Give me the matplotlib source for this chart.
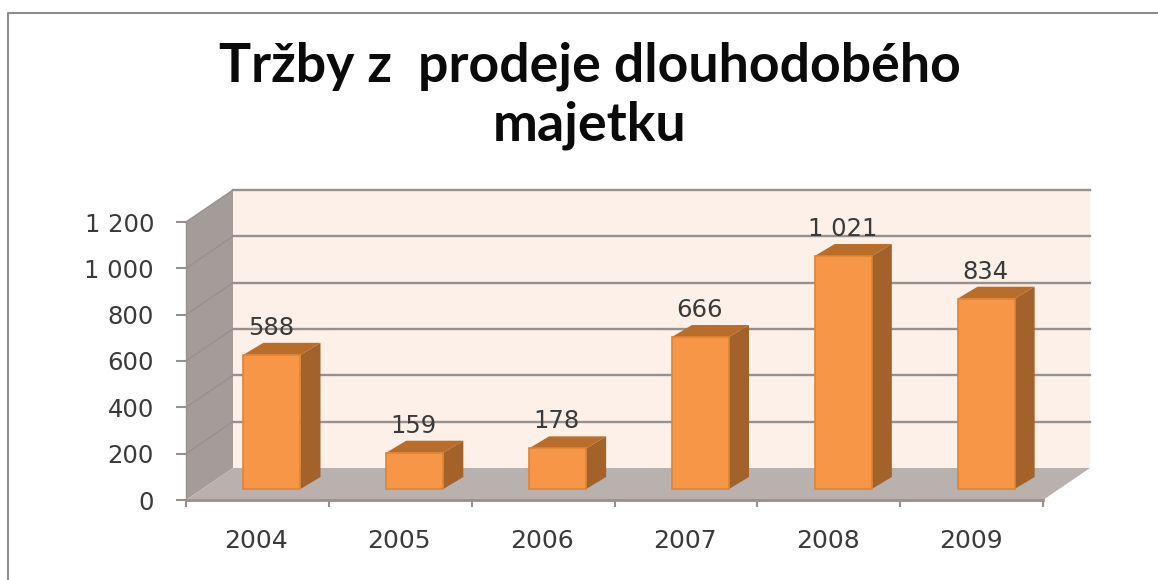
"""Tržby z prodeje dlouhodobého majetku: Excel-style 3D column chart in matplotlib."""

import matplotlib
matplotlib.use("Agg")
import matplotlib.pyplot as plt
from matplotlib.patches import Polygon

# -----------------------------
# Data
# -----------------------------
years = ["2004", "2005", "2006", "2007", "2008", "2009"]
values = [588, 159, 178, 666, 1021, 834]
value_labels = ["588", "159", "178", "666", "1 021", "834"]
y_ticks = [0, 200, 400, 600, 800, 1000, 1200]
y_tick_labels = ["0", "200", "400", "600", "800", "1 000", "1 200"]
title_lines = ["Tržby z  prodeje dlouhodobého", "majetku"]

# -----------------------------
# Layout (pixels in the 1158x580 figure)
# -----------------------------
W, H = 1158, 580
LEFT, RIGHT, TOP, BOTTOM = 186, 1043, 222, 500
PX_X = (RIGHT - LEFT) / len(years)   # pixels per category
PX_Y = (BOTTOM - TOP) / 1200         # pixels per value unit

# depth of the box and of one bar, in data units
WALL_DX, WALL_DY = 47 / PX_X, 32 / PX_Y
BAR_DX, BAR_DY = 20 / PX_X, 12 / PX_Y
# front face of a bar sits this far into the floor
BAR_SHIFT_X, BAR_SHIFT_Y = 14.5 / PX_X, 11 / PX_Y
BAR_WIDTH = 0.40
DEPTH_SCALE = 0.985  # bars stand a bit behind the front plane

WALL_BACK = "#FDF0E8"
WALL_SIDE = "#A39C98"
FLOOR = "#B8B1AE"
GRID = "#96918E"
BAR_FRONT = "#F79646"
BAR_EDGE = "#DE8436"
BAR_TOP = "#B96D2A"
BAR_SIDE = "#A2622A"
TEXT = "#3A3A3A"


def face(ax, points, color, zorder, edge="none"):
    ax.add_patch(Polygon(points, closed=True, facecolor=color, edgecolor=edge,
                         linewidth=1, zorder=zorder, clip_on=False))


def main():
    fig = plt.figure(figsize=(W / 100, H / 100), dpi=100)
    ax = fig.add_axes([LEFT / W, 1 - BOTTOM / H, (RIGHT - LEFT) / W, (BOTTOM - TOP) / H])
    n = len(years)
    ax.set_xlim(0, n)
    ax.set_ylim(0, 1200)
    ax.patch.set_visible(False)

    # Box: back wall, side wall, floor
    face(ax, [(WALL_DX, WALL_DY), (n + WALL_DX, WALL_DY), (n + WALL_DX, 1200 + WALL_DY), (WALL_DX, 1200 + WALL_DY)], WALL_BACK, 1)
    face(ax, [(0, 0), (WALL_DX, WALL_DY), (WALL_DX, 1200 + WALL_DY), (0, 1200)], WALL_SIDE, 1)
    face(ax, [(0, 0), (n, 0), (n + WALL_DX, WALL_DY), (WALL_DX, WALL_DY)], FLOOR, 1)

    # Gridlines: along the side wall, then across the back wall (none at the floor)
    for t in y_ticks[1:]:
        ax.plot([0, WALL_DX], [t, t + WALL_DY], color=GRID, lw=1, zorder=2, clip_on=False)
        ax.plot([WALL_DX, n + WALL_DX], [t + WALL_DY, t + WALL_DY], color=GRID, lw=1.7, zorder=2, clip_on=False)

    # Bars
    for i, v in enumerate(values):
        x0 = i + 0.5 - BAR_WIDTH / 2 + BAR_SHIFT_X
        x1 = x0 + BAR_WIDTH
        h = v * DEPTH_SCALE
        y0 = BAR_SHIFT_Y
        y1 = h + BAR_SHIFT_Y
        z = 3 + i * 0.1
        face(ax, [(x1, y0), (x1 + BAR_DX, y0 + BAR_DY), (x1 + BAR_DX, y1 + BAR_DY), (x1, y1)], BAR_SIDE, z)
        face(ax, [(x0, y1), (x1, y1), (x1 + BAR_DX, y1 + BAR_DY), (x0 + BAR_DX, y1 + BAR_DY)], BAR_TOP, z)
        ax.bar(i + 0.5 + BAR_SHIFT_X, h, BAR_WIDTH, bottom=y0, color=BAR_FRONT,
               edgecolor=BAR_EDGE, linewidth=1.2, zorder=z, clip_on=False)
        ax.annotate(value_labels[i], (i + 0.5 + BAR_SHIFT_X, y1 + BAR_DY), xytext=(-1, 3),
                    textcoords="offset pixels", ha="center", va="bottom",
                    fontsize=17.5, color=TEXT, zorder=6)

    # Axes
    for side in ("top", "right"):
        ax.spines[side].set_visible(False)
    ax.spines["left"].set_color(GRID)
    ax.spines["left"].set_linewidth(1)
    ax.spines["bottom"].set_color(GRID)
    ax.spines["bottom"].set_linewidth(2)
    ax.spines["bottom"].set_zorder(4)
    ax.set_yticks(y_ticks, y_tick_labels)
    ax.set_xticks(range(n + 1), [""] * (n + 1))
    ax.tick_params(axis="y", length=7, width=1.5, color=GRID, labelsize=17.5, labelcolor=TEXT, pad=16)
    ax.tick_params(axis="x", direction="out", length=5, width=1.5, color=GRID)
    for i, year in enumerate(years):
        ax.annotate(year, (i + 0.5, 0), xytext=(-1, -41), textcoords="offset pixels",
                    ha="center", va="center", fontsize=18, color=TEXT, annotation_clip=False)

    # Title and outer frame
    for line, y_px in zip(title_lines, (66, 125)):
        fig.text(590 / W, 1 - y_px / H, line, ha="center", va="center", fontsize=38.6,
                 fontweight="bold", family=["Lato", "DejaVu Sans"], color="#0A0A0A")
    fig.add_artist(plt.Line2D([8 / W, 8 / W, 1], [0, 1 - 13 / H, 1 - 13 / H], color="#8C8C8C", lw=1.5))

    fig.savefig("out.png", dpi=100)


if __name__ == "__main__":
    main()
